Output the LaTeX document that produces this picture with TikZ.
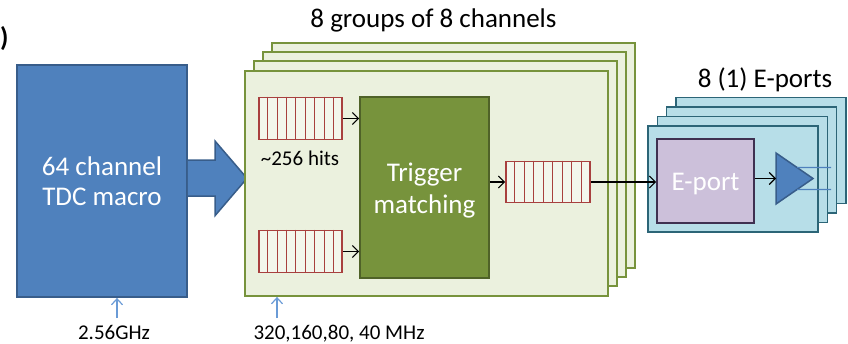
\documentclass[tikz,border=0pt]{standalone}
\usepackage{fontspec}
\setmainfont{Carlito}
\usetikzlibrary{arrows.meta,calc}
\definecolor{tdcfill}{HTML}{4F81BD}
\definecolor{tdcline}{HTML}{385D8A}
\definecolor{grpfill}{HTML}{EBF1DE}
\definecolor{grpline}{HTML}{77933C}
\definecolor{trgfill}{HTML}{77933C}
\definecolor{trgline}{HTML}{4F6228}
\definecolor{fifoline}{HTML}{A8403E}
\definecolor{fifofill}{HTML}{F3F6EC}
\definecolor{epfill}{HTML}{B7DEE8}
\definecolor{epline}{HTML}{2C6577}
\definecolor{eportfill}{HTML}{CCC0DA}
\definecolor{eportline}{HTML}{3F3151}
\definecolor{clkblue}{HTML}{6A9BD6}
\tikzset{
  bigtext/.style={font=\fontsize{27}{30}\selectfont},
  smalltext/.style={font=\fontsize{21}{24}\selectfont},
  box/.style={rectangle, inner sep=0pt},
  grpbox/.style={box, fill=grpfill, draw=grpline, line width=1.8pt, minimum width=363pt, minimum height=225pt},
  epbox/.style={box, fill=epfill, draw=epline, line width=1.8pt, minimum width=170pt, minimum height=106pt},
  fifobox/.style={box, fill=fifofill, draw=fifoline, line width=1.6pt, minimum width=83pt, minimum height=42pt},
  arr/.style={-{Straight Barb[length=6pt,width=12pt,line width=1.1pt]}, line width=1.1pt, black},
  clkarr/.style={-{Straight Barb[length=6pt,width=11pt,line width=1.2pt]}, line width=1.2pt, clkblue},
}
\newcommand{\fifocells}[1]{%
  \foreach \k in {1,...,8} {
    \draw[fifoline, line width=1pt] ($(#1.north west)!\k/9!(#1.north east)$) -- ($(#1.south west)!\k/9!(#1.south east)$);
  }}
\begin{document}
\begin{tikzpicture}[x=1pt,y=-1pt]
\useasboundingbox (0,0) rectangle (848,343);
\node[font=\fontsize{27}{30}\bfseries\selectfont, anchor=base west, inner sep=0pt] (frag) at (0,46) {)};

% TDC macro
\node[box, fill=tdcfill, draw=tdcline, line width=1.8pt, minimum width=170pt, minimum height=232pt] (tdc) at (102,181) {};
\node[bigtext, text=white, anchor=base] (tdc1) at (102,175) {64 channel};
\node[bigtext, text=white, anchor=base] (tdc2) at (102,205) {TDC macro};

% block arrow
\draw[fill=tdcfill, draw=tdcline, line width=1.5pt, line join=miter]
  (tdc.east |- 0,160) -- (215,160) -- (215,141) -- (247,178.3) -- (215,215.7) -- (215,196) -- (tdc.east |- 0,196);

% group stack
\node[grpbox] (g4) at (453.5,155.5) {};
\node[grpbox] (g3) at (444.5,164.5) {};
\node[grpbox] (g2) at (435.5,173.5) {};
\node[grpbox] (g1) at (426.5,183.5) {};
\node[bigtext, anchor=base] (gtitle) at (433.5,27) {8 groups of 8 channels};

% trigger matching
\node[box, fill=trgfill, draw=trgline, line width=1.8pt, minimum width=129pt, minimum height=181pt] (trig) at (424.5,187.5) {};
\node[bigtext, text=white, anchor=base] (trig1) at (424.5,181) {Trigger};
\node[bigtext, text=white, anchor=base] (trig2) at (424.5,213) {matching};

% FIFOs
\node[fifobox] (fifo1) at (300.5,118.5) {};
\fifocells{fifo1}
\node[fifobox] (fifo2) at (300.5,251.5) {};
\fifocells{fifo2}
\node[fifobox, minimum width=84pt, minimum height=41pt] (fifo3) at (548,182) {};
\fifocells{fifo3}
\node[smalltext, anchor=base] (hits) at (300,165) {\char`\~256 hits};

\draw[arr] (fifo1.east) -- (fifo1.east -| trig.west);
\draw[arr] (fifo2.east) -- (fifo2.east -| trig.west);
\draw[arr] (trig.east |- fifo3.west) -- (fifo3.west);

% E-port stack
\node[epbox] (e4) at (761,150.5) {};
\node[epbox] (e3) at (751.5,160) {};
\node[epbox] (e2) at (742.5,169.5) {};
\node[epbox] (e1) at (733,179) {};
\node[bigtext, anchor=base] (etitle) at (765,87) {8 (1) E-ports};

\node[box, fill=eportfill, draw=eportline, line width=1.8pt, minimum width=97pt, minimum height=84pt] (eport) at (705.5,181) {};
\node[bigtext, text=white, anchor=base] (eporttxt) at (705.5,190) {E-port};

\draw[arr] (fifo3.east) -- (fifo3.east -| eport.west);

% driver triangle
\coordinate (tritop) at (776,153);
\coordinate (tribot) at (776,204);
\coordinate (tritip) at (813,178.5);
\coordinate (triin) at (776,178.5);
\draw[fill=tdcfill, draw=tdcline, line width=1.5pt, line join=miter] (tritop) -- (tritip) -- (tribot) -- cycle;
\draw[arr] (eport.east |- triin) -- (triin);
\coordinate (out1) at (831,167.5);
\coordinate (out2) at (831,189.5);
\draw[tdcfill, line width=1.3pt] ($(tritop)!0.57!(tritip)$) -- (out1);
\draw[tdcfill, line width=1.3pt] ($(tribot)!0.57!(tritip)$) -- (out2);

% clocks
\coordinate (clk1) at (117,318);
\coordinate (clk2) at (277,318);
\draw[clkarr] (clk1) -- (clk1 |- tdc.south);
\draw[clkarr] (clk2) -- (clk2 |- g1.south);
\node[smalltext, anchor=base] (clk1txt) at (114,339) {2.56GHz};
\node[smalltext, anchor=base] (clk2txt) at (339,339) {320,160,80, 40 MHz};
\end{tikzpicture}
\end{document}
